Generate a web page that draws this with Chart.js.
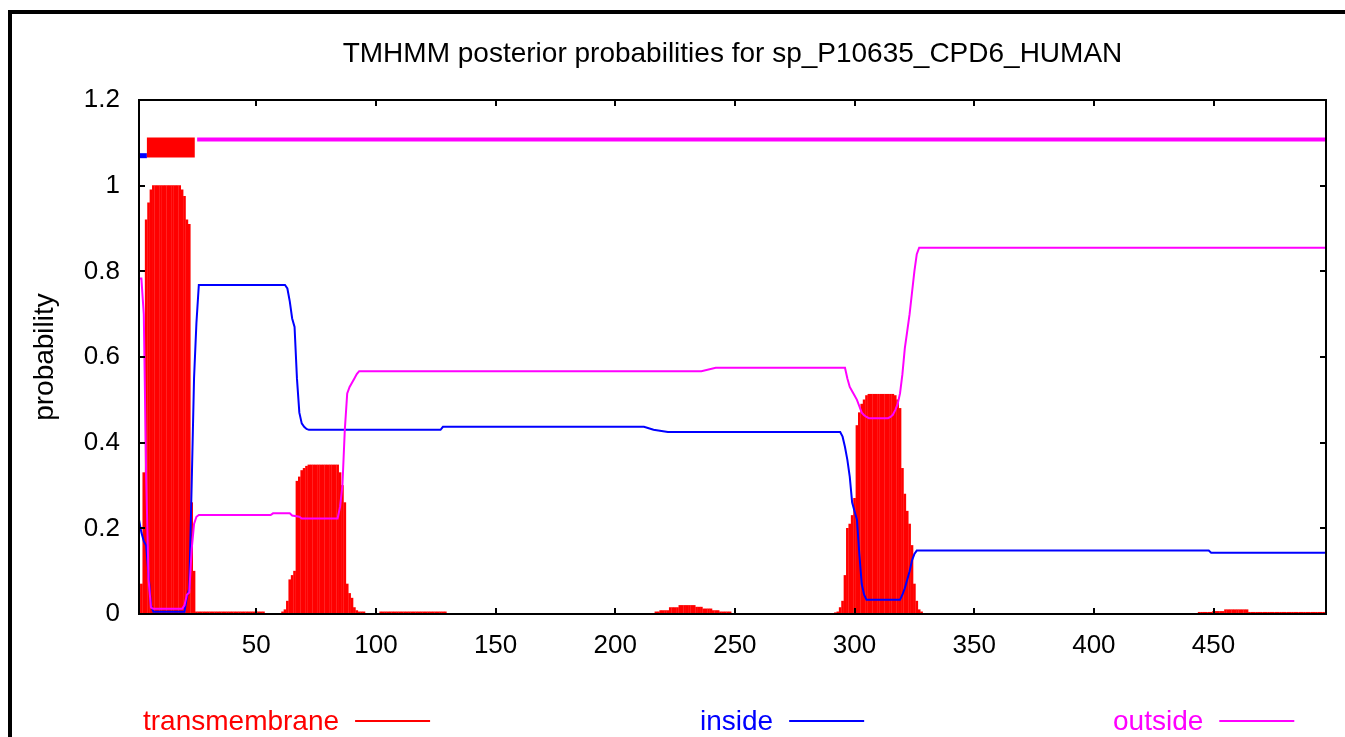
<!DOCTYPE html>
<html>
<head>
<meta charset="utf-8">
<script src="https://cdn.jsdelivr.net/npm/chart.js@4.4.1/dist/chart.umd.min.js"></script>
<style>
html, body { margin: 0; padding: 0; background: #fff; }
#wrap { position: relative; width: 1345px; height: 737px; overflow: hidden; }
#frame { position: absolute; left: 8px; top: 10px; width: 1400px; height: 800px; border-left: 4px solid #000; border-top: 4px solid #000; }
canvas { position: absolute; left: 0; top: 0; }
</style>
</head>
<body>
<div id="wrap"><div id="frame"></div><canvas id="tmhmm" width="1345" height="737"></canvas></div>
<script>
// residue ticks / probability ticks
var xTicks = [50, 100, 150, 200, 250, 300, 350, 400, 450];
var yTicks = [0, 0.2, 0.4, 0.6, 0.8, 1, 1.2];

// transmembrane posterior, one value per residue, starting at tmStart[i]
var tmStart = [1, 61, 102, 217, 292, 444];
var tmValues = [
    [0.05, 0.07, 0.33, 0.92, 0.96, 0.99,
     1, 1, 1, 1, 1, 1, 1, 1, 1, 1, 1, 1,
     0.99, 0.975, 0.92, 0.91, 0.26, 0.10,
     0.005, 0.005, 0.005, 0.005, 0.005, 0.005, 0.005, 0.005, 0.005, 0.005,
     0.005, 0.005, 0.005, 0.005, 0.005, 0.005, 0.005, 0.005, 0.005, 0.005,
     0.005, 0.005, 0.005, 0.005, 0.005, 0.005, 0.005, 0.005, 0.005],
    [0.005, 0.01, 0.03, 0.08, 0.09, 0.10, 0.31, 0.32, 0.335, 0.34, 0.345,
     0.348, 0.348, 0.348, 0.348, 0.348, 0.348, 0.348, 0.348, 0.348, 0.348, 0.348, 0.348, 0.348,
     0.33, 0.30, 0.26, 0.07, 0.048, 0.037, 0.015, 0.008, 0.005, 0.005, 0.005],
    [0.005, 0.005, 0.005, 0.005, 0.005, 0.005, 0.005, 0.005, 0.005, 0.005,
     0.005, 0.005, 0.005, 0.005, 0.005, 0.005, 0.005, 0.005, 0.005, 0.005,
     0.005, 0.005, 0.005, 0.005, 0.005, 0.005, 0.005, 0.005],
    [0.005, 0.005, 0.008, 0.008, 0.008, 0.008, 0.015, 0.015, 0.015, 0.015,
     0.02, 0.02, 0.02, 0.02, 0.02, 0.02, 0.02, 0.016, 0.016, 0.016,
     0.012, 0.012, 0.012, 0.012, 0.008, 0.008, 0.008, 0.005, 0.005, 0.005, 0.005, 0.005],
    [0.003, 0.005, 0.015, 0.03, 0.09, 0.2, 0.21, 0.23, 0.27, 0.44, 0.47, 0.49, 0.50, 0.51,
     0.513, 0.513, 0.513, 0.513, 0.513, 0.513, 0.513, 0.513, 0.513, 0.513, 0.513,
     0.51, 0.50, 0.48, 0.34, 0.28, 0.24, 0.21, 0.16, 0.07, 0.03, 0.01, 0.005],
    [0.004, 0.004, 0.004, 0.004, 0.004, 0.004, 0.006, 0.006, 0.006, 0.006, 0.006,
     0.01, 0.01, 0.01, 0.01, 0.01, 0.01, 0.01, 0.01, 0.01, 0.01,
     0.004, 0.004, 0.004, 0.004, 0.004, 0.004, 0.004, 0.004, 0.004, 0.004,
     0.004, 0.004, 0.004, 0.004, 0.004, 0.004, 0.004, 0.004, 0.004, 0.004,
     0.004, 0.004, 0.004, 0.004, 0.004, 0.004, 0.004, 0.004, 0.004, 0.004, 0.004, 0.004]
];

// inside posterior [residue, probability]
var inside = [
    [1, 0.22], [2, 0.19], [3, 0.17], [4, 0.16], [5, 0.09], [6, 0.02], [7, 0.005], [20, 0.005],
    [21, 0.04], [22, 0.06], [23, 0.30], [24, 0.55], [25, 0.68], [26, 0.768], [62, 0.768],
    [63, 0.76], [64, 0.73], [65, 0.69], [66, 0.67], [67, 0.55], [68, 0.47], [69, 0.445],
    [70, 0.437], [71, 0.432], [72, 0.43], [127, 0.43], [128, 0.437], [212, 0.437], [216, 0.43],
    [222, 0.425], [294, 0.425], [295, 0.414], [296, 0.39], [297, 0.36], [298, 0.32], [299, 0.26],
    [300, 0.24], [301, 0.22], [302, 0.14], [303, 0.07], [304, 0.045], [305, 0.033], [319, 0.033],
    [320, 0.045], [321, 0.06], [322, 0.08], [323, 0.10], [324, 0.125], [325, 0.14], [326, 0.148],
    [448, 0.148], [449, 0.143], [497, 0.143]
];

// outside posterior [residue, probability]
var outside = [
    [1, 0.783], [2, 0.783], [3, 0.70], [4, 0.32], [5, 0.08], [6, 0.015], [7, 0.012], [19, 0.012],
    [20, 0.02], [21, 0.045], [22, 0.05], [23, 0.15], [24, 0.21], [25, 0.227], [26, 0.231], [56, 0.231],
    [57, 0.235], [64, 0.235], [65, 0.23], [68, 0.227], [69, 0.223], [84, 0.223], [85, 0.25],
    [86, 0.30], [87, 0.43], [88, 0.515], [89, 0.53], [90, 0.54], [91, 0.55], [92, 0.56], [93, 0.567],
    [236, 0.567], [242, 0.575], [296, 0.575], [297, 0.55], [298, 0.53], [299, 0.52], [300, 0.51],
    [301, 0.50], [302, 0.485], [303, 0.47], [304, 0.464], [305, 0.46], [306, 0.457], [314, 0.457],
    [315, 0.46], [316, 0.465], [317, 0.476], [318, 0.49], [319, 0.515], [320, 0.56], [321, 0.62],
    [322, 0.66], [323, 0.70], [324, 0.75], [325, 0.80], [326, 0.84], [327, 0.855], [497, 0.855]
];

// predicted topology strip above the plot [from, to, level]
var topInside = [1, 4.3, 1.07];
var topHelix = [4.3, 24.3, 1.089];
var topOutside = [25.3, 497, 1.108];

var chartTitle = 'TMHMM posterior probabilities for sp_P10635_CPD6_HUMAN';
var legendNames = ['transmembrane', 'inside', 'outside'];
var legendColors = ['#ff0000', '#0000ff', '#ff00ff'];

var tmBars = [];
tmStart.forEach(function (s, i) {
    tmValues[i].forEach(function (v, j) { tmBars.push({ x: s + j, y: v }); });
});
function toPoints(list) { return list.map(function (p) { return { x: p[0], y: p[1] }; }); }
function strip(seg) { return [{ x: seg[0], y: seg[2] }, { x: seg[1], y: seg[2] }]; }

var FONT = 'Liberation Sans, Arial, sans-serif';

// gnuplot style box, inward ticks, title, y label and key
var framePlugin = {
    id: 'frame',
    afterDatasetsDraw: function (chart) {
        var ctx = chart.ctx, a = chart.chartArea, sx = chart.scales.x, sy = chart.scales.y;
        ctx.save();
        ctx.strokeStyle = '#000';
        ctx.lineWidth = 2;
        ctx.strokeRect(a.left, a.top, a.right - a.left, a.bottom - a.top);
        ctx.beginPath();
        xTicks.forEach(function (v) {
            var px = Math.round(sx.getPixelForValue(v));
            ctx.moveTo(px, a.bottom); ctx.lineTo(px, a.bottom - 6);
            ctx.moveTo(px, a.top); ctx.lineTo(px, a.top + 6);
        });
        yTicks.forEach(function (v) {
            var py = Math.round(sy.getPixelForValue(v));
            ctx.moveTo(a.left, py); ctx.lineTo(a.left + 6, py);
            ctx.moveTo(a.right, py); ctx.lineTo(a.right - 6, py);
        });
        ctx.stroke();

        ctx.fillStyle = '#000';
        ctx.font = '28px ' + FONT;
        ctx.textAlign = 'center';
        ctx.textBaseline = 'middle';
        ctx.fillText(chartTitle, (a.left + a.right) / 2, a.top - 46);

        ctx.translate(45, (a.top + a.bottom) / 2);
        ctx.rotate(-Math.PI / 2);
        ctx.fillText('probability', 0, 0);
        ctx.restore();

        // key below the plot: text then line sample
        var keyX = [143, 700, 1113];
        var keyY = a.bottom + 108;
        ctx.save();
        ctx.font = '28px ' + FONT;
        ctx.textAlign = 'left';
        ctx.textBaseline = 'middle';
        ctx.lineWidth = 2;
        legendNames.forEach(function (name, i) {
            ctx.fillStyle = legendColors[i];
            ctx.strokeStyle = legendColors[i];
            ctx.fillText(name, keyX[i], keyY);
            var w = ctx.measureText(name).width;
            ctx.beginPath();
            ctx.moveTo(keyX[i] + w + 16, keyY - 1);
            ctx.lineTo(keyX[i] + w + 91, keyY - 1);
            ctx.stroke();
        });
        ctx.restore();
    }
};

var ctx = document.getElementById('tmhmm').getContext('2d');
var chart = new Chart(ctx, {
    type: 'line',
    data: {
        datasets: [
            { label: 'outside', data: toPoints(outside), borderColor: '#ff00ff', borderWidth: 2, pointRadius: 0, tension: 0, order: 1 },
            { label: 'inside', data: toPoints(inside), borderColor: '#0000ff', borderWidth: 2, pointRadius: 0, tension: 0, order: 2 },
            { type: 'bar', label: 'transmembrane', data: tmBars, backgroundColor: '#ff0000', borderWidth: 0, barThickness: 2, order: 3 },
            { label: 'top outside', data: strip(topOutside), borderColor: '#ff00ff', borderWidth: 4, borderCapStyle: 'butt', pointRadius: 0, order: 1 },
            { label: 'top helix', data: strip(topHelix), borderColor: '#ff0000', borderWidth: 20, borderCapStyle: 'butt', pointRadius: 0, order: 1 },
            { label: 'top inside', data: strip(topInside), borderColor: '#0000ff', borderWidth: 5, borderCapStyle: 'butt', pointRadius: 0, order: 1 }
        ]
    },
    options: {
        responsive: false,
        devicePixelRatio: 1,
        animation: false,
        layout: { padding: { left: 0, right: 19, top: 100, bottom: 0 } },
        plugins: {
            legend: { display: false },
            tooltip: { enabled: false },
            title: { display: false }
        },
        scales: {
            x: {
                type: 'linear',
                min: 1,
                max: 497,
                offset: false,
                grid: { display: false, drawTicks: false },
                border: { display: false },
                afterBuildTicks: function (s) { s.ticks = xTicks.map(function (v) { return { value: v }; }); },
                afterFit: function (s) { s.height = 123; },
                ticks: { color: '#000', font: { family: FONT, size: 26 }, padding: 16, maxRotation: 0, autoSkip: false }
            },
            y: {
                min: 0,
                max: 1.2,
                grid: { display: false, drawTicks: false },
                border: { display: false },
                afterBuildTicks: function (s) { s.ticks = yTicks.map(function (v) { return { value: v }; }); },
                afterFit: function (s) { s.width = 139; },
                ticks: {
                    color: '#000', font: { family: FONT, size: 26 }, padding: 19,
                    callback: function (v) { return String(Number(v.toFixed(1))); }
                }
            }
        }
    },
    plugins: [framePlugin]
});
</script>
</body>
</html>
